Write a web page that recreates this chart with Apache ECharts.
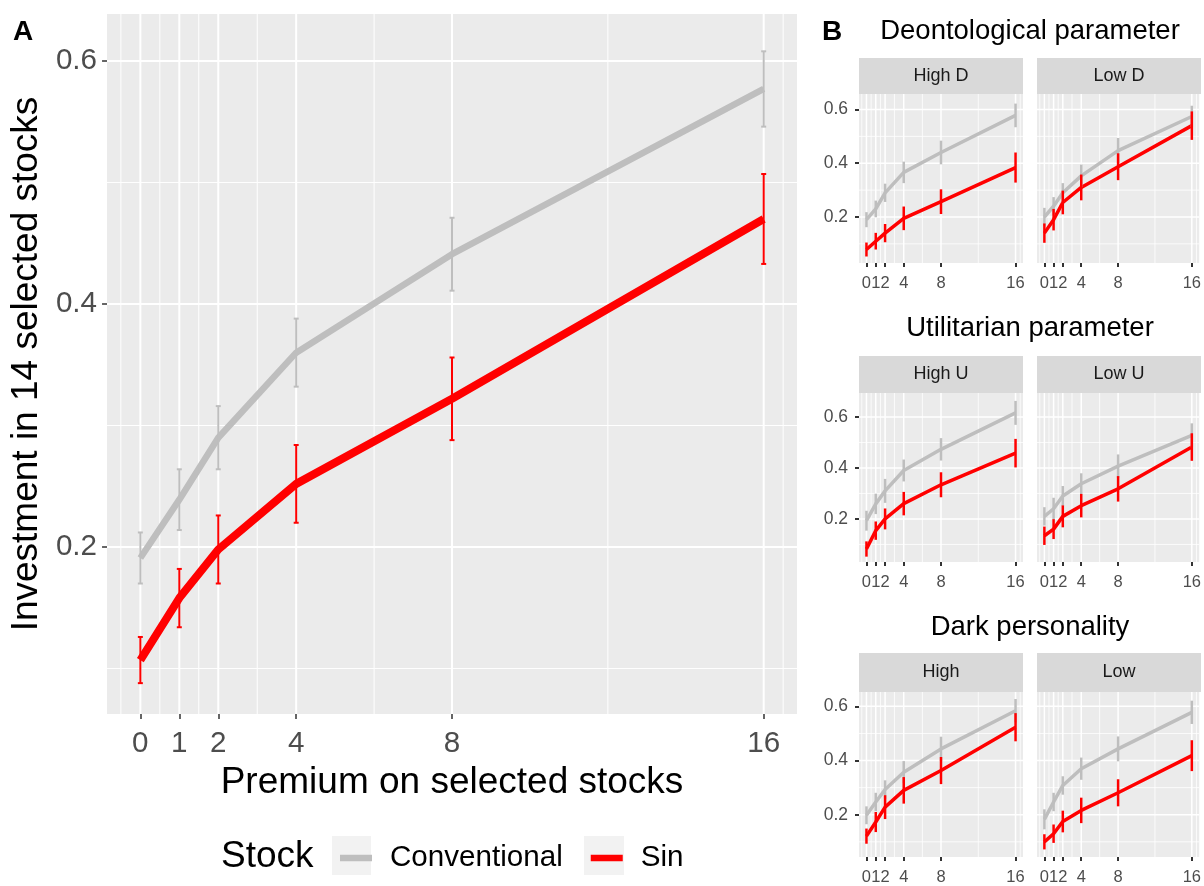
<!DOCTYPE html>
<html>
<head>
<meta charset="utf-8">
<script src="https://cdn.jsdelivr.net/npm/echarts/dist/echarts.min.js"></script>
<style>html,body{margin:0;padding:0;background:#fff;}#c{width:1204px;height:886px;}</style>
</head>
<body>
<div id="c"></div>
<script>
// ---------------- DATA ----------------
const premium = [0, 1, 2, 4, 8, 16];
const xMinorBreaks = [-0.5, 0.5, 1.5, 3, 6, 12, 16.5];
const yMajorBreaks = [0.2, 0.4, 0.6];
const yMinorBreaks = [0.1, 0.3, 0.5];
const seriesNames = ['Conventional', 'Sin'];

// Panel A
const convMean = [0.191, 0.239, 0.290, 0.360, 0.441, 0.577];
const convSE   = [0.021, 0.025, 0.026, 0.028, 0.030, 0.031];
const sinMean  = [0.107, 0.158, 0.198, 0.252, 0.322, 0.470];
const sinSE    = [0.019, 0.024, 0.028, 0.032, 0.034, 0.037];

// Panel B titles / strips
const rowTitles = ['Deontological parameter', 'Utilitarian parameter', 'Dark personality'];
const stripLabels = [['High D', 'Low D'], ['High U', 'Low U'], ['High', 'Low']];

// Deontological
const highD_conv   = [0.190, 0.230, 0.290, 0.366, 0.440, 0.578];
const highD_convSE = [0.028, 0.031, 0.034, 0.040, 0.044, 0.044];
const highD_sin    = [0.079, 0.110, 0.140, 0.195, 0.257, 0.384];
const highD_sinSE  = [0.026, 0.031, 0.034, 0.044, 0.046, 0.056];
const lowD_conv    = [0.200, 0.240, 0.290, 0.353, 0.447, 0.574];
const lowD_convSE  = [0.034, 0.034, 0.036, 0.042, 0.047, 0.040];
const lowD_sin     = [0.140, 0.190, 0.254, 0.310, 0.387, 0.540];
const lowD_sinSE   = [0.036, 0.040, 0.044, 0.048, 0.050, 0.053];
// Utilitarian
const highU_conv   = [0.193, 0.259, 0.310, 0.390, 0.473, 0.616];
const highU_convSE = [0.039, 0.040, 0.047, 0.043, 0.044, 0.047];
const highU_sin    = [0.082, 0.154, 0.200, 0.260, 0.334, 0.458];
const highU_sinSE  = [0.030, 0.036, 0.041, 0.046, 0.049, 0.056];
const lowU_conv    = [0.210, 0.240, 0.290, 0.338, 0.407, 0.528];
const lowU_convSE  = [0.036, 0.043, 0.039, 0.041, 0.046, 0.047];
const lowU_sin     = [0.134, 0.160, 0.210, 0.252, 0.318, 0.482];
const lowU_sinSE   = [0.036, 0.039, 0.043, 0.046, 0.050, 0.054];
// Dark personality
const highDark_conv   = [0.198, 0.247, 0.293, 0.357, 0.443, 0.584];
const highDark_convSE = [0.033, 0.034, 0.034, 0.041, 0.045, 0.043];
const highDark_sin    = [0.121, 0.173, 0.228, 0.290, 0.363, 0.523];
const highDark_sinSE  = [0.028, 0.037, 0.044, 0.049, 0.050, 0.052];
const lowDark_conv    = [0.183, 0.247, 0.308, 0.370, 0.443, 0.578];
const lowDark_convSE  = [0.037, 0.034, 0.034, 0.041, 0.046, 0.043];
const lowDark_sin     = [0.100, 0.130, 0.175, 0.216, 0.281, 0.418];
const lowDark_sinSE   = [0.028, 0.034, 0.040, 0.047, 0.050, 0.057];

// ---------------- LAYOUT ----------------
const FONT = '"Liberation Sans", Arial, Helvetica, sans-serif';
const GREY = '#bebebe', RED = '#ff0000';
const panelsB = [
  [[highD_conv, highD_convSE, highD_sin, highD_sinSE], [lowD_conv, lowD_convSE, lowD_sin, lowD_sinSE]],
  [[highU_conv, highU_convSE, highU_sin, highU_sinSE], [lowU_conv, lowU_convSE, lowU_sin, lowU_sinSE]],
  [[highDark_conv, highDark_convSE, highDark_sin, highDark_sinSE], [lowDark_conv, lowDark_convSE, lowDark_sin, lowDark_sinSE]]
];
const colsB = [[859, 164], [1037, 164]];
const rowsB = [
  {top: 94, h: 169, stripTop: 58, stripH: 36, titleY: 31, yr: [0.0288, 0.6577]},
  {top: 393, h: 169, stripTop: 356, stripH: 37, titleY: 328, yr: [0.031, 0.694]},
  {top: 692, h: 166, stripTop: 653, stripH: 39, titleY: 627, yr: [0.044, 0.653]}
];

const grids = [], xAxes = [], yAxes = [], series = [], graphics = [];

function gridSeries(gi, xr, yr, majorW, minorW) {
  const items = [];
  xMinorBreaks.forEach(v => { if (v > xr[0] && v < xr[1]) items.push([v, 0, 0]); });
  yMinorBreaks.forEach(v => { if (v > yr[0] && v < yr[1]) items.push([v, 1, 0]); });
  premium.forEach(v => items.push([v, 0, 1]));
  yMajorBreaks.forEach(v => { if (v > yr[0] && v < yr[1]) items.push([v, 1, 1]); });
  return {
    type: 'custom', xAxisIndex: gi, yAxisIndex: gi, silent: true, z: 1,
    dimensions: ['v', 'dir', 'major'], encode: {x: 'v'},
    data: items,
    renderItem: function (params, api) {
      const cs = params.coordSys;
      const v = api.value(0), dir = api.value(1), major = api.value(2);
      let shape;
      if (dir === 0) {
        const px = api.coord([v, yr[0]])[0];
        shape = {x1: px, y1: cs.y, x2: px, y2: cs.y + cs.height};
      } else {
        const py = api.coord([xr[0], v])[1];
        shape = {x1: cs.x, y1: py, x2: cs.x + cs.width, y2: py};
      }
      return {type: 'line', shape: shape, style: {stroke: '#ffffff', lineWidth: major ? majorW : minorW}};
    }
  };
}

function errSeries(gi, name, mean, se, color, w, capHalf) {
  return {
    type: 'custom', name: name, xAxisIndex: gi, yAxisIndex: gi, silent: true, z: 4,
    itemStyle: {color: color},
    encode: {x: 0, y: [1, 2]},
    data: premium.map((x, i) => [x, mean[i] - se[i], mean[i] + se[i]]),
    renderItem: function (params, api) {
      const x = api.value(0);
      const p1 = api.coord([x, api.value(1)]), p2 = api.coord([x, api.value(2)]);
      const children = [{type: 'line', shape: {x1: p1[0], y1: p1[1], x2: p2[0], y2: p2[1]}, style: {stroke: color, lineWidth: w}}];
      if (capHalf > 0) {
        children.push({type: 'line', shape: {x1: p1[0] - capHalf, y1: p1[1], x2: p1[0] + capHalf, y2: p1[1]}, style: {stroke: color, lineWidth: w}});
        children.push({type: 'line', shape: {x1: p2[0] - capHalf, y1: p2[1], x2: p2[0] + capHalf, y2: p2[1]}, style: {stroke: color, lineWidth: w}});
      }
      return {type: 'group', children: children};
    }
  };
}

function lineSeries(gi, name, mean, color, w) {
  return {
    type: 'line', name: name, xAxisIndex: gi, yAxisIndex: gi, z: 3,
    showSymbol: false, symbol: 'none', silent: true, animation: false,
    itemStyle: {color: color},
    lineStyle: {color: color, width: w, cap: 'butt', join: 'round'},
    data: premium.map((x, i) => [x, mean[i]])
  };
}

function addPanel(gi, left, top, width, height, xr, yr, sty) {
  grids.push({left: left, top: top, width: width, height: height, show: true, backgroundColor: '#ebebeb', borderWidth: 0, containLabel: false});
  xAxes.push({
    type: 'value', gridIndex: gi, min: xr[0], max: xr[1],
    axisLine: {show: false, onZero: false}, splitLine: {show: false},
    axisTick: {show: true, customValues: premium, length: sty.tickLen, lineStyle: {color: '#333333', width: sty.tickW}},
    axisLabel: {customValues: premium, fontSize: sty.labelSize, color: '#4d4d4d', margin: sty.xMargin, fontFamily: FONT,
      showMinLabel: true, showMaxLabel: true, hideOverlap: false, formatter: v => String(v)},
    name: sty.xName || '', nameLocation: 'middle', nameGap: sty.xNameGap || 0,
    nameTextStyle: {fontSize: 37, color: '#000', fontFamily: FONT}
  });
  yAxes.push({
    type: 'value', gridIndex: gi, min: yr[0], max: yr[1],
    axisLine: {show: false, onZero: false}, splitLine: {show: false},
    axisTick: {show: sty.showY, customValues: yMajorBreaks, length: sty.tickLen, lineStyle: {color: '#333333', width: sty.tickW}},
    axisLabel: {show: sty.showY, customValues: yMajorBreaks, fontSize: sty.yLabelSize || sty.labelSize, color: '#4d4d4d', margin: sty.yMargin, fontFamily: FONT, formatter: v => v.toFixed(1)},
    name: sty.yName || '', nameLocation: 'middle', nameGap: sty.yNameGap || 0,
    nameTextStyle: {fontSize: 37, color: '#000', fontFamily: FONT}
  });
  series.push(gridSeries(gi, xr, yr, sty.majorW, sty.minorW));
}

// Panel A
addPanel(0, 107, 14, 690, 700, [-0.855, 16.855], [0.0626, 0.6387], {
  tickLen: 5, tickW: 1.5, labelSize: 29.6, xMargin: 15, yMargin: 10, showY: true,
  majorW: 2, minorW: 1,
  xName: 'Premium on selected stocks', xNameGap: 48,
  yName: 'Investment in 14 selected stocks', yNameGap: 51
});
series.push(lineSeries(0, 'Conventional', convMean, GREY, 6.5));
series.push(lineSeries(0, 'Sin', sinMean, RED, 8));
series.push(errSeries(0, 'Conventional', convMean, convSE, GREY, 2, 2.5));
series.push(errSeries(0, 'Sin', sinMean, sinSE, RED, 2, 2.5));

// Panel B
let gi = 1;
rowsB.forEach((row, r) => {
  graphics.push({type: 'text', style: {text: rowTitles[r], x: 1030, y: row.titleY, align: 'center', verticalAlign: 'middle', fontSize: 27.5, fill: '#000', fontFamily: FONT}});
  colsB.forEach((col, c) => {
    const d = panelsB[r][c];
    addPanel(gi, col[0], row.top, col[1], row.h, [-0.8, 16.8], row.yr, {
      tickLen: 4, tickW: 2, labelSize: 16.5, yLabelSize: 17.5, xMargin: 12, yMargin: 11, showY: c === 0,
      majorW: 1.5, minorW: 0.8
    });
    series.push(lineSeries(gi, 'Conventional', d[0], GREY, 3.5));
    series.push(lineSeries(gi, 'Sin', d[2], RED, 3.5));
    series.push(errSeries(gi, 'Conventional', d[0], d[1], GREY, 2.5, 0));
    series.push(errSeries(gi, 'Sin', d[2], d[3], RED, 2.5, 0));
    graphics.push({type: 'rect', shape: {x: col[0], y: row.stripTop, width: col[1], height: row.stripH}, style: {fill: '#d9d9d9'}});
    graphics.push({type: 'text', style: {text: stripLabels[r][c], x: col[0] + col[1] / 2, y: row.stripTop + row.stripH / 2, align: 'center', verticalAlign: 'middle', fontSize: 18, fill: '#1a1a1a', fontFamily: FONT}});
    gi++;
  });
});

// Panel labels
graphics.push({type: 'text', style: {text: 'A', x: 13, y: 32, verticalAlign: 'middle', fontSize: 28, fontWeight: 'bold', fill: '#000', fontFamily: FONT}});
graphics.push({type: 'text', style: {text: 'B', x: 822, y: 32, verticalAlign: 'middle', fontSize: 28, fontWeight: 'bold', fill: '#000', fontFamily: FONT}});
// Legend title and key backgrounds
graphics.push({type: 'text', style: {text: 'Stock', x: 221, y: 857, verticalAlign: 'middle', fontSize: 37, fill: '#000', fontFamily: FONT}});
graphics.push({type: 'rect', shape: {x: 332, y: 836, width: 39, height: 39}, style: {fill: '#f2f2f2'}});
graphics.push({type: 'rect', shape: {x: 584, y: 836, width: 40, height: 39}, style: {fill: '#f2f2f2'}});

const chart = echarts.init(document.getElementById('c'), null, {renderer: 'canvas'});
chart.setOption({
  animation: false,
  backgroundColor: '#ffffff',
  textStyle: {fontFamily: FONT},
  grid: grids,
  xAxis: xAxes,
  yAxis: yAxes,
  legend: {
    data: seriesNames, left: 335, top: 838, icon: 'rect', itemWidth: 32, itemHeight: 6.5, itemGap: 28,
    selectedMode: false, textStyle: {fontSize: 29.6, color: '#000', fontFamily: FONT, padding: [0, 0, 0, 13]}
  },
  graphic: graphics,
  series: series
});
</script>
</body>
</html>
